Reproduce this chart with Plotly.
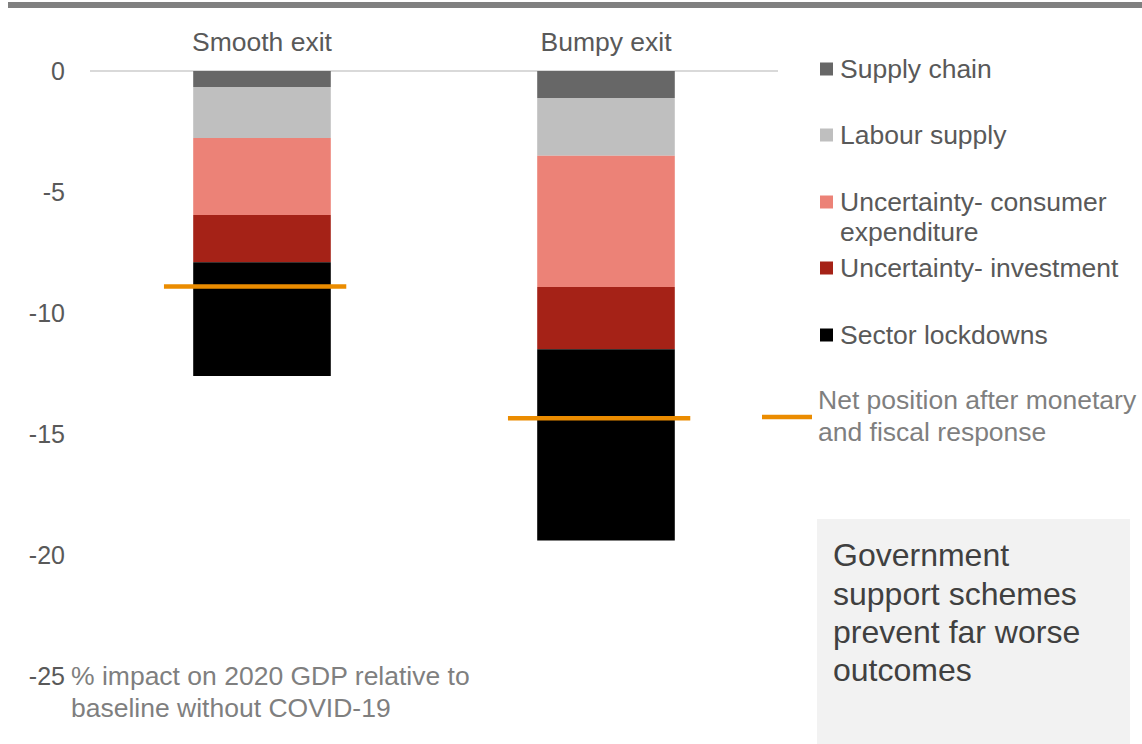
import plotly.graph_objects as go

# ---- data ----
scenarios = ["Smooth exit", "Bumpy exit"]
series_names = ["Supply chain", "Labour supply", "Uncertainty- consumer expenditure",
                "Uncertainty- investment", "Sector lockdowns"]
supply_chain = [-0.66, -1.12]
labour_supply = [-2.11, -2.38]
uncertainty_consumer = [-3.18, -5.43]
uncertainty_investment = [-1.95, -2.57]
sector_lockdowns = [-4.70, -7.90]
net_position = [-8.9, -14.35]
y_ticks = [0, -5, -10, -15, -20, -25]

series_values = [supply_chain, labour_supply, uncertainty_consumer,
                 uncertainty_investment, sector_lockdowns]
colors = ["#676767", "#bfbfbf", "#ec8277", "#a52217", "#000000"]
orange = "#eb8c00"

W, H = 1142, 744
ML, MR, MT, MB = 90, 364, 71, 68
PW, PH = W - ML - MR, H - MT - MB


def px(x):
    return (x - ML) / PW


def py(y):
    return (H - MB - y) / PH


FONT = "Liberation Sans, Arial, sans-serif"
FS = 26.5
xpos = list(range(len(scenarios)))

fig = go.Figure()
for name, vals, col in zip(series_names, series_values, colors):
    fig.add_trace(go.Bar(x=xpos, y=vals, name=name, marker=dict(color=col, line=dict(width=0)),
                         width=0.4, showlegend=False))

# net position lines (drawn slightly left of bar centre, as in the source)
half = 0.265
shift = -0.02
for i, v in enumerate(net_position):
    fig.add_trace(go.Scatter(x=[i + shift - half, i + shift + half], y=[v, v], mode="lines",
                             line=dict(color=orange, width=4.5), showlegend=False,
                             hoverinfo="skip"))

fig.update_layout(
    width=W, height=H, barmode="relative",
    margin=dict(l=ML, r=MR, t=MT, b=MB),
    paper_bgcolor="white", plot_bgcolor="white",
    font=dict(family=FONT, size=FS, color="#595959"),
    xaxis=dict(range=[-0.5, 1.5], side="top", tickmode="array", tickvals=xpos,
               ticktext=scenarios, showgrid=False, zeroline=False, showline=False,
               ticks="", ticklabelstandoff=14,
               tickfont=dict(size=FS, color="#595959")),
    yaxis=dict(range=[-25, 0], tickmode="array", tickvals=y_ticks,
               ticktext=[str(t) for t in y_ticks], showgrid=False, zeroline=True,
               zerolinecolor="#d9d9d9", zerolinewidth=2, showline=False, ticks="",
               ticklabelstandoff=24, tickfont=dict(size=25, color="#595959")),
)

shapes = []
annotations = []
# top grey rule
shapes.append(dict(type="rect", xref="paper", yref="paper", x0=px(8), x1=px(1142),
                   y0=py(8), y1=py(2), fillcolor="#808080", line=dict(width=0), layer="above"))

# legend
legend_rows = [
    (["Supply chain"], 69),
    (["Labour supply"], 135),
    (["Uncertainty- consumer", "expenditure"], 202),
    (["Uncertainty- investment"], 268),
    (["Sector lockdowns"], 335),
]
for (lines, yc), col in zip(legend_rows, colors):
    shapes.append(dict(type="rect", xref="paper", yref="paper", x0=px(820), x1=px(833),
                       y0=py(yc + 6.5), y1=py(yc - 6.5), fillcolor=col, line=dict(width=0)))
    for k, t in enumerate(lines):
        annotations.append(dict(xref="paper", yref="paper", x=px(838), y=py(yc + 30 * k),
                                text=t, showarrow=False, xanchor="left", yanchor="middle",
                                font=dict(size=FS, color="#595959")))

shapes.append(dict(type="line", xref="paper", yref="paper", x0=px(762), x1=px(812),
                   y0=py(417), y1=py(417), line=dict(color=orange, width=4.5)))
for t, yc in [("Net position after monetary", 400), ("and fiscal response", 432)]:
    annotations.append(dict(xref="paper", yref="paper", x=px(816), y=py(yc), text=t,
                            showarrow=False, xanchor="left", yanchor="middle",
                            font=dict(size=FS, color="#7f7f7f")))

# grey box
shapes.append(dict(type="rect", xref="paper", yref="paper", x0=px(817), x1=px(1130),
                   y0=py(744), y1=py(519), fillcolor="#f2f2f2", line=dict(width=0), layer="below"))
for t, yc in [("Government", 555), ("support schemes", 594), ("prevent far worse", 632),
              ("outcomes", 670)]:
    annotations.append(dict(xref="paper", yref="paper", x=px(831), y=py(yc), text=t,
                            showarrow=False, xanchor="left", yanchor="middle",
                            font=dict(size=32, color="#404040")))

# axis note
for t, yc in [("% impact on 2020 GDP relative to", 676), ("baseline without COVID-19", 708)]:
    annotations.append(dict(xref="paper", yref="paper", x=px(69), y=py(yc), text=t,
                            showarrow=False, xanchor="left", yanchor="middle",
                            font=dict(size=FS, color="#7f7f7f")))

fig.update_layout(shapes=shapes, annotations=annotations)
fig.write_html("out.html")
